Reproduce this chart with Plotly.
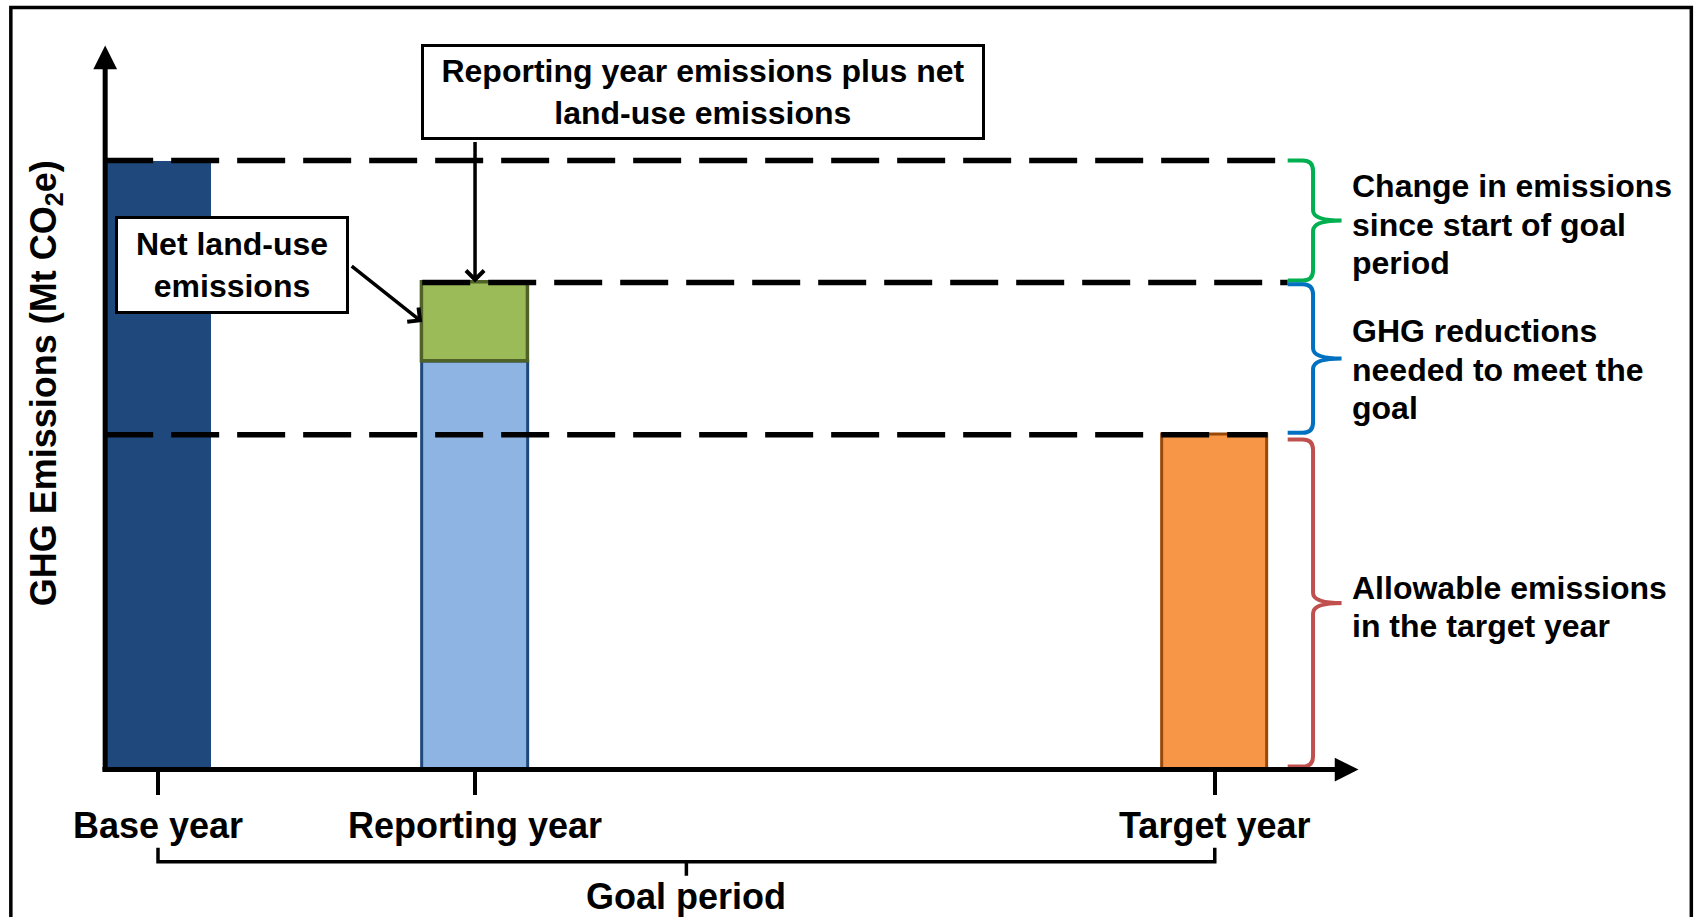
import plotly.graph_objects as go

# ---------------- data (arbitrary emission units) ----------------
categories = ["Base year", "Reporting year", "Target year"]
years_from_base = [0, 3, 10]
base_year_emissions = [100]
reporting_year_emissions = [67]
net_land_use_emissions = [13]
target_year_emissions = [55]

brace_labels = [
    ["Change in emissions", "since start of goal", "period"],
    ["GHG reductions", "needed to meet the", "goal"],
    ["Allowable emissions", "in the target year"],
]
brace_colors = ["#00B050", "#0070C0", "#C0504D"]

# ---------------- layout helpers ----------------
W, H = 1700, 917
REF_W, REF_H = 1568, 846          # reference picture grid used for placement


def px(x):
    return x / REF_W


def py(y):
    return 1 - y / REF_H


FONT = "Liberation Sans, Arial, Helvetica, sans-serif"
BAR_W = 1
X_MIN, X_MAX = -0.5, 11.36
Y_MAX = 118.9

base_val = base_year_emissions[0]
rep_val = reporting_year_emissions[0]
lu_val = net_land_use_emissions[0]
rep_total = rep_val + lu_val
tgt_val = target_year_emissions[0]

fig = go.Figure()

# ---------------- bars ----------------
fig.add_trace(go.Bar(x=[years_from_base[0]], y=base_year_emissions, width=BAR_W,
                     marker=dict(color="#1F497D", line=dict(width=0))))
fig.add_trace(go.Bar(x=[years_from_base[1]], y=reporting_year_emissions, width=BAR_W,
                     marker=dict(color="#8EB4E3", line=dict(color="#1F497D", width=3))))
fig.add_trace(go.Bar(x=[years_from_base[1]], y=net_land_use_emissions,
                     base=reporting_year_emissions, width=BAR_W,
                     marker=dict(color="#9BBB59", line=dict(color="#4F6228", width=3.5))))
fig.add_trace(go.Bar(x=[years_from_base[2]], y=target_year_emissions, width=BAR_W,
                     marker=dict(color="#F79646", line=dict(color="#984807", width=3))))

# ---------------- dashed reference lines ----------------
HOOK_X, VERT_X, TIP_X = 10.69, 10.93, 11.2
dash_specs = [
    (X_MIN, HOOK_X, base_val),
    (years_from_base[1] - BAR_W / 2, HOOK_X, rep_total),
    (X_MIN, years_from_base[2] + BAR_W / 2, tgt_val),
]
for x0, x1, yv in dash_specs:
    fig.add_trace(go.Scatter(x=[x0, x1], y=[yv, yv], mode="lines",
                             line=dict(color="black", width=5.5, dash="48px,18px"),
                             hoverinfo="skip"))

# ---------------- curly braces ----------------
def brace_path(y_top, y_bot, rx=0.1, ry=1.7):
    ym = (y_top + y_bot) / 2
    return (f"M{HOOK_X},{y_top} L{VERT_X - rx},{y_top} "
            f"Q{VERT_X},{y_top} {VERT_X},{y_top - ry} "
            f"L{VERT_X},{ym + ry} Q{VERT_X},{ym} {TIP_X},{ym} "
            f"Q{VERT_X},{ym} {VERT_X},{ym - ry} "
            f"L{VERT_X},{y_bot + ry} Q{VERT_X},{y_bot} {VERT_X - rx},{y_bot} "
            f"L{HOOK_X},{y_bot}")


brace_spans = [(base_val, rep_total + 0.3), (rep_total - 0.3, tgt_val + 0.3), (tgt_val - 0.8, 0.5)]
label_shift = [-4, -11, -4]       # pixel nudge of each label block
LINE_GAP = 38.5                   # pixel distance between label lines
shapes = []
for (yt, yb), col in zip(brace_spans, brace_colors):
    shapes.append(dict(type="path", xref="x", yref="y", path=brace_path(yt, yb),
                       line=dict(color=col, width=4)))

# goal period bracket (below the axis)
g0, g1 = years_from_base[0], years_from_base[2]
gm = (g0 + g1) / 2
shapes.append(dict(type="path", xref="x", yref="paper",
                   path=(f"M{g0},{py(782)} L{g0},{py(795)} L{g1},{py(795)} L{g1},{py(782)} "
                         f"M{gm},{py(795)} L{gm},{py(808)}"),
                   line=dict(color="black", width=3.5)))

# outer frame
shapes.append(dict(type="rect", xref="paper", yref="paper",
                   x0=px(10), x1=px(1560), y0=-0.05, y1=py(7),
                   line=dict(color="black", width=3.5), layer="above"))

# ---------------- annotations ----------------
annotations = []
# axes with arrowheads
annotations.append(dict(x=X_MIN, y=Y_MAX, xref="x", yref="y", ax=X_MIN, ay=-0.4,
                        axref="x", ayref="y", text="", showarrow=True, arrowhead=2,
                        arrowwidth=5, arrowsize=0.95, arrowcolor="black", standoff=0))
annotations.append(dict(x=X_MAX, y=0, xref="x", yref="y", ax=X_MIN - 0.04, ay=0,
                        axref="x", ayref="y", text="", showarrow=True, arrowhead=2,
                        arrowwidth=5, arrowsize=0.95, arrowcolor="black", standoff=0))

# y axis title
annotations.append(dict(x=px(42), y=py(354), xref="paper", yref="paper",
                        xanchor="center", yanchor="middle",
                        text="<b>GHG Emissions (Mt CO<sub>2</sub>e)</b>", textangle=-90,
                        showarrow=False, font=dict(family=FONT, size=36, color="black")))

# callout boxes
annotations.append(dict(x=px(648), y=py(84.5), xref="paper", yref="paper",
                        xanchor="center", yanchor="middle",
                        text="<b>Reporting year emissions plus net<br>land-use emissions</b>",
                        showarrow=False, width=558, height=90, bgcolor="white",
                        bordercolor="black", borderwidth=3, borderpad=0,
                        font=dict(family=FONT, size=32, color="black")))
annotations.append(dict(x=px(214), y=py(244.5), xref="paper", yref="paper",
                        xanchor="center", yanchor="middle",
                        text="<b>Net land-use<br>emissions</b>",
                        showarrow=False, width=228, height=92, bgcolor="white",
                        bordercolor="black", borderwidth=3, borderpad=0,
                        font=dict(family=FONT, size=32, color="black")))

# callout arrows
annotations.append(dict(x=years_from_base[1], y=rep_total, xref="x", yref="y",
                        ax=0, ay=-142, text="", showarrow=True, arrowhead=4,
                        arrowwidth=3.5, arrowsize=1, arrowcolor="black", standoff=0))
annotations.append(dict(x=years_from_base[1] - BAR_W / 2, y=rep_val + lu_val / 2,
                        xref="x", yref="y", ax=-72, ay=-57, text="", showarrow=True,
                        arrowhead=4, arrowwidth=3.5, arrowsize=1, arrowcolor="black",
                        standoff=0))

# brace labels (one annotation per line for tighter line spacing)
for (yt, yb), lines, shift in zip(brace_spans, brace_labels, label_shift):
    n = len(lines)
    for i, line in enumerate(lines):
        off = ((n - 1) / 2 - i) * LINE_GAP + shift
        annotations.append(dict(x=11.28, y=(yt + yb) / 2, xref="x", yref="y",
                                yshift=off, text=f"<b>{line}</b>", showarrow=False,
                                xanchor="left", yanchor="middle", align="left",
                                font=dict(family=FONT, size=32, color="black")))

# goal period label
annotations.append(dict(x=gm, y=py(827), xref="x", yref="paper", text="<b>Goal period</b>",
                        xanchor="center", yanchor="middle",
                        showarrow=False, font=dict(family=FONT, size=36, color="black")))

fig.update_layout(
    width=W, height=H, autosize=False,
    margin=dict(l=0, r=0, t=0, b=0, pad=0),
    paper_bgcolor="white", plot_bgcolor="white",
    showlegend=False, barmode="overlay", bargap=0,
    shapes=shapes, annotations=annotations,
    xaxis=dict(domain=[px(97), px(1253)], range=[X_MIN, X_MAX], showgrid=False,
               zeroline=False, showline=False, tickmode="array",
               tickvals=years_from_base, ticktext=categories, ticks="outside",
               ticklen=24, tickwidth=3.5, tickcolor="black", automargin=False,
               tickfont=dict(family=FONT, size=36, color="black", weight="bold")),
    yaxis=dict(domain=[py(710), py(42)], range=[0, Y_MAX], showgrid=False,
               zeroline=False, showline=False, showticklabels=False, ticks="",
               automargin=False),
)

fig.write_html("out.html", config={"displayModeBar": False},
               post_script="document.body.style.margin='0px';")
